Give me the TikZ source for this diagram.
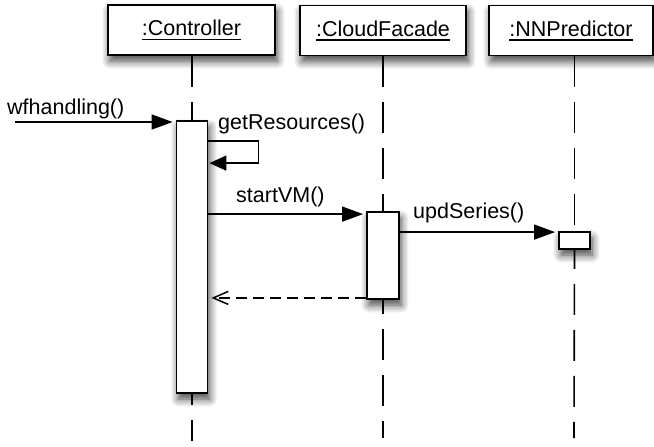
\documentclass[tikz,border=0pt]{standalone}
\usepackage{fontspec}
\setmainfont{Liberation Sans}
\usetikzlibrary{arrows.meta,shadows.blur}
\newcommand{\objname}[1]{\setbox0\hbox{#1}\rlap{\rule[-4.5pt]{\wd0}{1.5pt}}\box0}
\begin{document}
\begin{tikzpicture}[x=1pt,y=-1pt,
  font=\fontsize{21.5pt}{25pt}\selectfont,
  shad/.style={blur shadow={shadow xshift=2pt,shadow yshift=-6pt,shadow blur radius=8pt,shadow blur steps=8,shadow opacity=75}},
  objbox/.style={draw,fill=white,line width=1.8pt,minimum height=50pt,inner sep=0pt,shad},
  actbox/.style={draw,fill=white,line width=1.8pt,minimum width=31pt,inner sep=0pt,shad},
  life/.style={line width=1.6pt,dash pattern=on 31pt off 15pt},
  msg/.style={line width=1.5pt,-{Triangle[length=21pt,width=15pt]},shorten >=3pt},
  selfmsg/.style={line width=1.5pt,-{Triangle[length=17pt,width=15pt]},shorten >=1pt},
  ret/.style={line width=1.5pt,dash pattern=on 11pt off 6pt,-{Straight Barb[length=15pt,width=13pt,line width=1.5pt]},shorten >=3pt},
  lbl/.style={fill=white,inner sep=2pt,anchor=base west}]
\useasboundingbox (0,0) rectangle (654,447);
% object boxes
\node[objbox,minimum width=167pt] (ctrl) at (191.5,30) {\objname{:Controller}};
\node[objbox,minimum width=166pt] (cf) at (383,30.5) {\objname{:CloudFacade}};
\node[objbox,minimum width=164pt] (nn) at (571,30.5) {\objname{:NNPredictor}};
% activation boxes
\node[actbox,minimum height=272pt] (actc) at (192,257) {};
\node[actbox,minimum width=32pt,minimum height=87pt] (actf) at (383,255.5) {};
\node[actbox,minimum height=17pt] (actn) at (574.5,240.5) {};
% lifeline ends
\coordinate (endc) at (192,441);
\coordinate (endf) at (383,438);
\coordinate (endn) at (574,438);
% lifelines
\draw[life] (ctrl.south -| actc.north) -- (actc.north);
\draw[life,dash phase=20pt] (actc.south) -- (endc);
\draw[life] (cf.south -| actf.north) -- (actf.north);
\draw[life,dash phase=17pt] (actf.south) -- (endf);
\draw[life] (nn.south -| actn.north) -- (actn.north);
\draw[life,dash phase=12pt] (actn.south) -- (endn);
% messages
\coordinate (wfs) at (15,122);
\draw[msg] (wfs) -- (wfs -| actc.west);
\node[lbl] (lwf) at (5,114) {wfhandling()};
\node[lbl] (lgr) at (216,129) {getResources()};
\coordinate (g1) at ([yshift=-21pt]actc.north east);
\coordinate (g2) at ([yshift=-43pt]actc.north east);
\draw[selfmsg] (g1) -- ++(50,0) |- (g2);
\coordinate (s1) at ([yshift=-94pt]actc.north east);
\draw[msg] (s1) -- (s1 -| actf.west);
\node[lbl] (lsv) at (234,202) {startVM()};
\node[lbl] (lus) at (411,218) {updSeries()};
\coordinate (u1) at ([yshift=-21pt]actf.north east);
\draw[msg] (u1) -- (u1 -| actn.west);
\coordinate (r1) at ([yshift=2pt]actf.south west);
\draw[ret] (r1) -- (r1 -| actc.east);
\end{tikzpicture}
\end{document}
